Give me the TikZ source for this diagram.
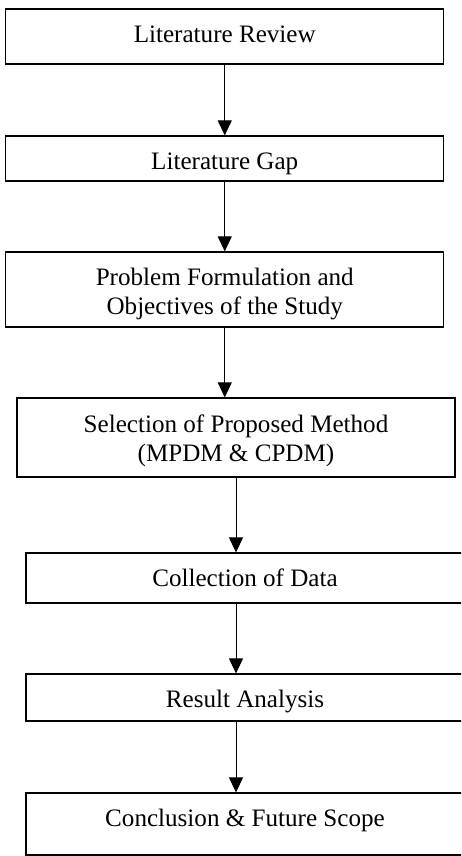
\documentclass[tikz,border=0pt]{standalone}
\usepackage{fontspec}
\setmainfont{Liberation Serif}
\usetikzlibrary{arrows.meta}
\newcommand\boxtext[2]{\raisebox{-#1pt}[0pt][0pt]{#2}}
\newcommand\twolines[2]{\begin{tabular}[b]{@{}c@{}}#1\\#2\end{tabular}}
\begin{document}
\begin{tikzpicture}[x=1pt,y=-1pt,
  stepbox/.style={draw=black,line width=1.2pt,inner sep=0pt,minimum width=438pt,
    font=\fontsize{25.1}{28.6}\selectfont,anchor=center},
  arr/.style={line width=1pt,-{Triangle[width=14pt,length=15pt]}}]
\useasboundingbox (0,0) rectangle (461,856);
\clip (0,0) rectangle (461,856);
\node[stepbox,minimum height=55pt] (b1) at (224.75,36.5) {\boxtext{5.8}{Literature Review}};
\node[stepbox,minimum height=45pt] (b2) at (224.75,158.5) {\boxtext{11}{Literature Gap}};
\node[stepbox,minimum height=75pt] (b3) at (224.75,289.5) {\boxtext{25}{\twolines{Problem Formulation and}{Objectives of the Study}}};
\node[stepbox,minimum height=79pt] (b4) at (236,437.5) {\boxtext{23.5}{\twolines{Selection of Proposed Method}{(MPDM \& CPDM)}}};
\node[stepbox,minimum height=50pt] (b5) at (245,578) {\boxtext{8.7}{Collection of Data}};
\node[stepbox,minimum height=47pt] (b6) at (245,697.5) {\boxtext{9.8}{Result Analysis}};
\node[stepbox,minimum height=62pt] (b7) at (245,824) {\boxtext{2.7}{Conclusion \& Future Scope}};
\draw[arr] (b1.south) -- (b2.north);
\draw[arr] (b2.south) -- (b3.north);
\draw[arr] (b3.south) -- (b3.south |- b4.north);
\draw[arr] (b4.south) -- (b4.south |- b5.north);
\draw[arr] (b4.south |- b5.south) -- (b4.south |- b6.north);
\draw[arr] (b4.south |- b6.south) -- (b4.south |- b7.north);
\end{tikzpicture}
\end{document}
